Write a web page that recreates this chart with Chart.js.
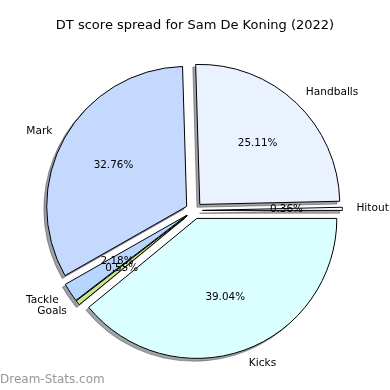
<!DOCTYPE html>
<html><head><meta charset="utf-8">
<script src="https://cdn.jsdelivr.net/npm/chart.js@4.4.1/dist/chart.umd.min.js"></script>
<style>html,body{margin:0;padding:0;background:#fff}canvas{display:block}</style>
</head><body>
<canvas id="c" width="390" height="390"></canvas>
<script>
// Data (drawn clockwise from east, i.e. matplotlib counter-clockwise order reversed)
const categories = ['Kicks', 'Goals', 'Tackle', 'Mark', 'Handballs', 'Hitout'];
const shares = [39.04, 0.55, 2.18, 32.76, 25.11, 0.36];
const pctLabels = ['39.04%', '0.55%', '2.18%', '32.76%', '25.11%', '0.36%'];
const chartTitle = 'DT score spread for Sam De Koning (2022)';
const watermark = 'Dream-Stats.com';

// Styles
const sliceColors = ['#dbffff', '#c8e68c', '#b6d6ff', '#c5d9ff', '#eaf1ff', '#ffffff'];
const EXPLODE = 8.4;
const SHADOW = 2.8;
const FONT = '"DejaVu Sans", sans-serif';

function hexToRgb(h) {
  const n = parseInt(h.slice(1), 16);
  return [(n >> 16) & 255, (n >> 8) & 255, n & 255];
}

const piePlugin = {
  id: 'piePlugin',
  beforeDatasetsDraw(chart) {
    const ctx = chart.ctx;
    const meta = chart.getDatasetMeta(0);
    meta.data.forEach((el, i) => {
      if (!el._exploded) {
        const orig = el.draw;
        el.draw = function (c, area) {
          const mid = (this.startAngle + this.endAngle) / 2;
          c.save();
          c.translate(Math.cos(mid) * EXPLODE, Math.sin(mid) * EXPLODE);
          orig.call(this, c, area);
          c.restore();
        };
        el._exploded = true;
      }
      // shadow
      const mid = (el.startAngle + el.endAngle) / 2;
      const cx = el.x + Math.cos(mid) * EXPLODE - SHADOW;
      const cy = el.y + Math.sin(mid) * EXPLODE + SHADOW;
      const rgb = hexToRgb(sliceColors[i]);
      const col = 'rgba(' + rgb.map(v => Math.round(v * 0.3)).join(',') + ',0.5)';
      ctx.save();
      ctx.beginPath();
      ctx.moveTo(cx, cy);
      ctx.arc(cx, cy, el.outerRadius, el.startAngle, el.endAngle);
      ctx.closePath();
      ctx.fillStyle = col;
      ctx.strokeStyle = col;
      ctx.lineWidth = 1;
      ctx.fill();
      ctx.stroke();
      ctx.restore();
    });
  },
  afterDatasetsDraw(chart) {
    const ctx = chart.ctx;
    const meta = chart.getDatasetMeta(0);
    ctx.save();
    ctx.fillStyle = '#000';
    ctx.textBaseline = 'middle';
    meta.data.forEach((el, i) => {
      const mid = (el.startAngle + el.endAngle) / 2;
      const cs = Math.cos(mid), sn = Math.sin(mid);
      const r = el.outerRadius;
      // category label
      const lx = el.x + cs * (EXPLODE + 1.1 * r);
      const ly = el.y + sn * (EXPLODE + 1.1 * r);
      ctx.font = '10.6px ' + FONT;
      ctx.textAlign = cs > 0 ? 'left' : 'right';
      ctx.fillText(categories[i], lx, ly);
      // pct label
      const px = el.x + cs * (EXPLODE + 0.6 * r);
      const py = el.y + sn * (EXPLODE + 0.6 * r);
      ctx.font = '10.4px ' + FONT;
      ctx.textAlign = 'center';
      ctx.fillText(pctLabels[i], px, py);
    });
    // title
    ctx.font = '13px ' + FONT;
    ctx.textAlign = 'center';
    ctx.fillText(chartTitle, 195, 26);
    // watermark
    ctx.font = '12px ' + FONT;
    ctx.textAlign = 'left';
    ctx.fillStyle = '#979797';
    ctx.fillText(watermark, 0, 380);
    ctx.restore();
  }
};

new Chart(document.getElementById('c'), {
  type: 'pie',
  data: {
    labels: categories,
    datasets: [{
      data: shares,
      backgroundColor: sliceColors,
      borderColor: '#000',
      borderWidth: 1,
      borderJoinStyle: 'miter',
      offset: 0,
      radius: 140
    }]
  },
  options: {
    responsive: false,
    devicePixelRatio: 1,
    animation: false,
    events: [],
    rotation: 90,
    layout: { padding: { left: 0, right: 2, top: 31, bottom: 0 } },
    plugins: {
      legend: { display: false },
      title: { display: false },
      tooltip: { enabled: false }
    }
  },
  plugins: [piePlugin]
});
</script>
</body></html>
